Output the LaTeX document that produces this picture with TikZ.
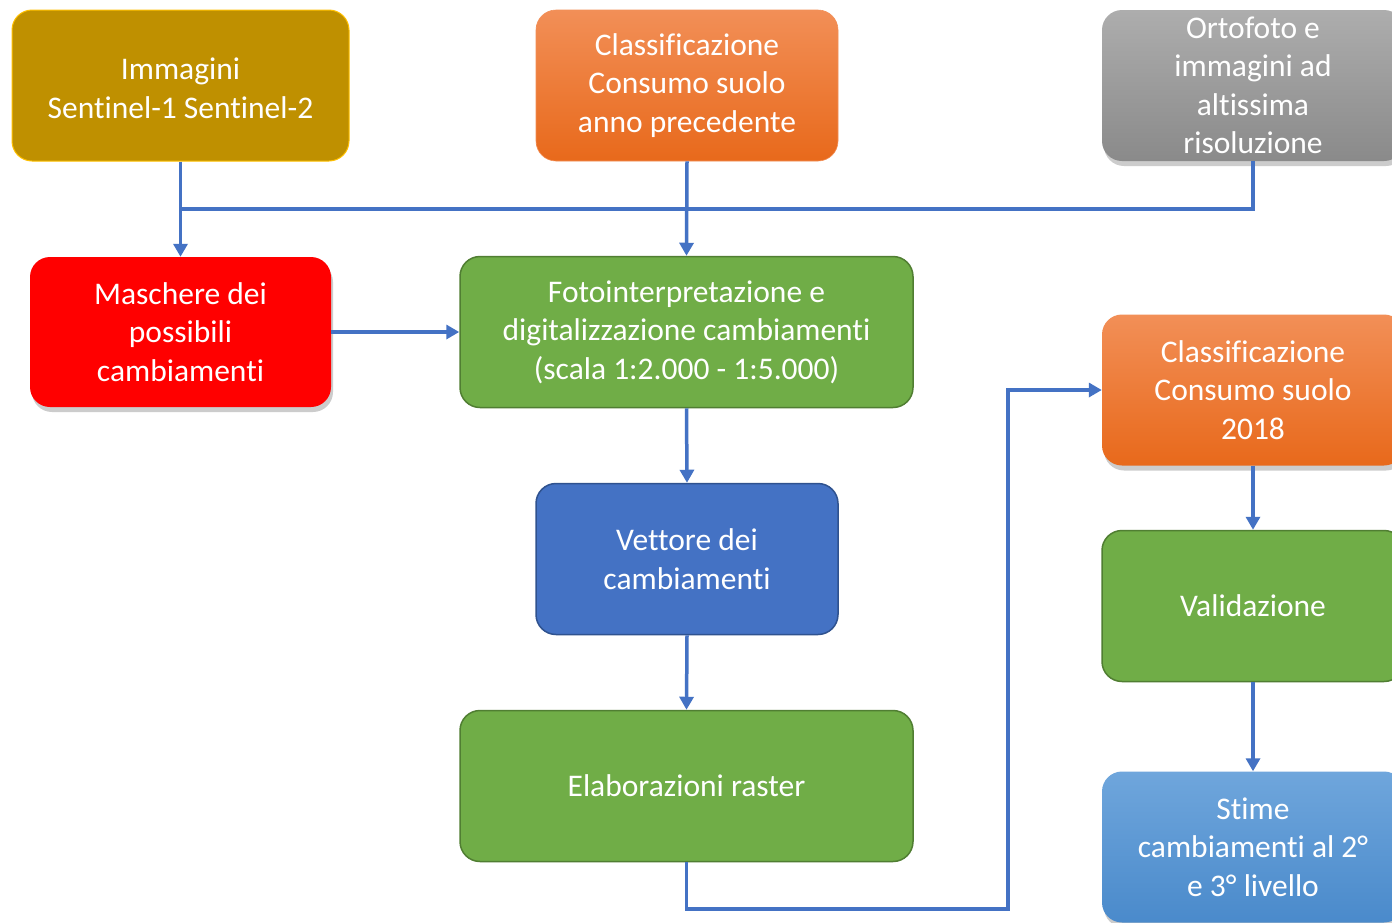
\documentclass[tikz,border=0pt]{standalone}
\usepackage{fontspec}
\setmainfont{Carlito}[Ligatures={NoCommon}]
\usetikzlibrary{arrows.meta,shadows}
\newcommand{\tIx}{t\kern0pt i}
\definecolor{gold}{HTML}{BF9000}
\definecolor{goldline}{HTML}{FFC000}
\definecolor{orTop}{HTML}{F28F57}
\definecolor{orBot}{HTML}{E8691B}
\definecolor{grTop}{HTML}{ADADAD}
\definecolor{grBot}{HTML}{8A8A8A}
\definecolor{grn}{HTML}{70AD47}
\definecolor{grnline}{HTML}{507E32}
\definecolor{blu}{HTML}{4472C4}
\definecolor{bluline}{HTML}{2F528F}
\definecolor{skyTop}{HTML}{6FA6DC}
\definecolor{skyBot}{HTML}{4A8ACB}
\definecolor{conncol}{HTML}{4472C4}
\tikzset{
  box/.style={rounded corners=20pt, text=white, align=center, inner sep=0pt,
    font=\fontsize{31.5}{38.5}\selectfont},
  sw/.style={minimum width=302pt, minimum height=151pt},
  ww/.style={minimum width=453pt, minimum height=151pt},
  shad/.style={drop shadow={opacity=0.4, shadow xshift=2pt, shadow yshift=-5pt}},
  link/.style={draw=conncol, line width=3.5pt},
  conn/.style={link, -{Triangle[width=14pt,length=13pt]}},
}
\begin{document}
\begin{tikzpicture}[x=1pt,y=-1pt]
\clip (0,0) rectangle (1392,922);
\fill[white] (0,0) rectangle (1392,922);

\node[box, fill=gold, draw=goldline, line width=1pt, minimum width=337pt, minimum height=151pt] (img) at (180.5,85.5) {\strut Immagini\\Sen\tIx nel-1 Sen\tIx nel-2};
\node[box, sw, top color=orTop, bottom color=orBot, draw=orTop, line width=0.6pt] (cls0) at (687,85.5) {Classificazione\\Consumo suolo\\anno precedente};
\node[box, sw, shad, top color=grTop, bottom color=grBot] (orto) at (1253,85.5) {Ortofoto e\\immagini ad\\altissima\\risoluzione};

\node[box, shad, fill=red, minimum width=301pt, minimum height=150pt] (mask) at (180.5,332) {Maschere dei\\possibili\\cambiamen\tIx};
\node[box, ww, fill=grn, draw=grnline, line width=1.5pt] (foto) at (686.5,332) {Fotointerpretazione e\\digitalizzazione cambiamen\tIx\\(scala 1:2.000 - 1:5.000)};
\node[box, sw, fill=blu, draw=bluline, line width=1.5pt] (vet) at (687,559) {Vettore dei\\cambiamen\tIx};
\node[box, ww, fill=grn, draw=grnline, line width=1.5pt] (elab) at (686.5,786) {Elaborazioni raster};

\node[box, sw, shad, top color=orTop, bottom color=orBot] (cls18) at (1253,390) {Classificazione\\Consumo suolo\\2018};
\node[box, sw, fill=grn, draw=grnline, line width=1.5pt] (val) at (1253,606) {Validazione};
\node[box, sw, shad, top color=skyTop, bottom color=skyBot] (stime) at (1253,847) {S\tIx me\\cambiamen\tIx\ al 2°\\e 3° livello};

\coordinate (j) at (180.5,209);
\coordinate (b1) at (1008,909);

\draw[link] (j) -- (j -| orto.south) -- (orto.south);
\draw[conn] (img.south) -- (mask.north);
\draw[conn] (cls0.south) -- (foto.north);
\draw[conn] (mask.east) -- (foto.west);
\draw[conn] (foto.south) -- (vet.north);
\draw[conn] (vet.south) -- (elab.north);
\draw[conn] (elab.south) |- (b1) |- (cls18.west);
\draw[conn] (cls18.south) -- (val.north);
\draw[conn] (val.south) -- (stime.north);
\end{tikzpicture}
\end{document}
